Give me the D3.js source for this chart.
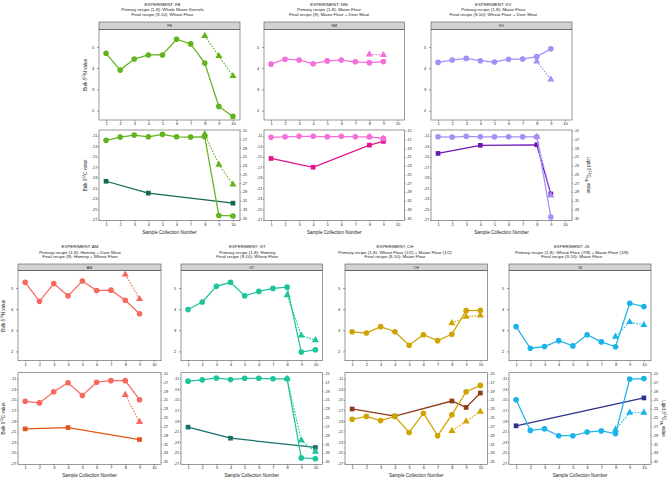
<!DOCTYPE html>
<html><head><meta charset="utf-8">
<script src="https://cdn.jsdelivr.net/npm/d3@7"></script>
<style>
body{margin:0;background:#fff}
svg{display:block}
text{font-family:"Liberation Sans",Arial,Helvetica,sans-serif;fill:#222}
</style>
</head><body>
<svg id="chart" width="668" height="479"></svg>
<script>
// ---------- tick labels ----------
const sampleNumbers = [1,2,3,4,5,6,7,8,9,10];
const n15Ticks = [2,3,4,5];
const bulkC13Ticks = [-11,-13,-15,-17,-19,-21,-23,-25,-27];
const lipidTicks = [-15,-17,-19,-21,-23,-25,-27,-29,-31,-33,-35];

// ---------- FB ----------
const fbTitle = ["EXPERIMENT: FB","Primary recipe (1-8): Whole Maize Kernels","Final recipe (9-10): Wheat Flour"];
const fbN15 = [4.70,3.91,4.43,4.62,4.62,5.36,5.14,4.24,2.20,1.73];
const fbN15TriX = [8,9,10];
const fbN15Tri = [5.52,4.57,3.63];
const fbC13 = [-11.87,-11.25,-10.87,-11.19,-10.73,-11.19,-11.25,-11.19,-26.2,-26.3];
const fbC13TriX = [8,9,10];
const fbC13Tri = [-10.7,-16.5,-20.3];
const fbLipidX = [1,4,10];
const fbLipid = [-26.6,-29.3,-31.6];

// ---------- NM ----------
const nmTitle = ["EXPERIMENT: NM","Primary recipe (1-8): Maize Flour","Final recipe (9): Maize Flour + Deer Meat"];
const nmN15 = [4.19,4.42,4.38,4.21,4.34,4.38,4.30,4.26,4.31];
const nmN15TriX = [8,9];
const nmN15Tri = [4.65,4.62];
const nmC13 = [-11.3,-11.19,-11.1,-11.1,-11.19,-11.1,-11.19,-11.19,-11.5];
const nmC13TriX = [8,9];
const nmC13Tri = [-11.2,-11.6];
const nmLipidX = [1,4,8,9];
const nmLipid = [-21.4,-23.4,-18.35,-17.5];

// ---------- KV ----------
const kvTitle = ["EXPERIMENT: KV","Primary recipe (1-8): Maize Flour","Final recipe (9-10): Wheat Flour + Deer Meat"];
const kvN15 = [4.27,4.38,4.46,4.35,4.29,4.42,4.43,4.54,4.91];
const kvN15TriX = [8,9];
const kvN15Tri = [4.32,3.47];
const kvC13 = [-11.19,-11.25,-11.1,-11.19,-11.19,-11.19,-11.19,-11.19,-26.5];
const kvC13TriX = [8,9];
const kvC13Tri = [-11.2,-22.4];
const kvLipidX = [1,4,8,9];
const kvLipid = [-20.25,-18.4,-18.27,-29.5];

// ---------- AM ----------
const amTitle = ["EXPERIMENT: AM","Primary recipe (1-8): Hominy + Deer Meat","Final recipe (9): Hominy + Wheat Flour"];
const amN15 = [5.27,4.37,5.21,4.63,5.33,4.88,4.90,4.42,3.78];
const amN15TriX = [8,9];
const amN15Tri = [5.64,4.48];
const amC13 = [-15.3,-15.6,-13.5,-11.8,-14.2,-11.7,-11.4,-11.4,-15.0];
const amC13TriX = [8,9];
const amC13Tri = [-14.1,-19.2];
const amLipidX = [1,4,9];
const amLipid = [-27.6,-27.3,-30.0];

// ---------- GT ----------
const gtTitle = ["EXPERIMENT: GT","Primary recipe (1-8): Hominy","Final recipe (9-10): Wheat Flour"];
const gtN15 = [3.98,4.34,5.08,5.27,4.63,4.84,4.98,5.04,1.97,2.08];
const gtN15TriX = [8,9,10];
const gtN15Tri = [4.66,2.75,2.53];
const gtC13 = [-11.5,-11.25,-10.9,-11.2,-10.95,-10.95,-11.05,-11.05,-26.0,-26.15];
const gtC13TriX = [8,9,10];
const gtC13Tri = [-11.05,-22.7,-24.8];
const gtLipidX = [1,4,10];
const gtLipid = [-27.2,-29.7,-31.8];

// ---------- CH ----------
const chTitle = ["EXPERIMENT: CH","Primary recipe (1-8): Wheat Flour (1/2) + Maize Flour (1/2)","Final recipe (9-10): Maize Flour"];
const chN15 = [2.93,2.87,3.17,2.93,2.29,2.79,2.51,2.81,3.93,3.94];
const chN15TriX = [8,9,10];
const chN15Tri = [3.34,3.64,3.70];
const chC13 = [-18.7,-18.15,-18.95,-18.15,-21.2,-17.55,-21.8,-17.85,-13.5,-12.3];
const chC13TriX = [8,9,10];
const chC13Tri = [-20.9,-19.1,-17.25];
const chLipidX = [1,4,8,9,10];
const chLipid = [-23.1,-24.7,-21.3,-22.75,-19.5];

// ---------- JS ----------
const jsTitle = ["EXPERIMENT: JS","Primary recipe (1-8): Wheat Flour (7/8) + Maize Flour (1/8)","Final recipe (9-10): Maize Flour"];
const jsN15 = [3.17,2.15,2.23,2.51,2.26,2.79,2.45,2.22,4.28,4.12];
const jsN15TriX = [8,9,10];
const jsN15Tri = [2.70,3.39,3.25];
const jsC13 = [-15.0,-20.8,-20.5,-21.8,-21.8,-21.1,-20.9,-21.4,-11.1,-11.0];
const jsC13TriX = [8,9,10];
const jsC13Tri = [-20.65,-17.45,-17.45];
const jsLipidX = [1,10];
const jsLipid = [-26.9,-20.6];

// ---------- panel table built from the arrays ----------
const panels = [
  {code:"FB", title:fbTitle, n15:fbN15, n15TriX:fbN15TriX, n15Tri:fbN15Tri, c13:fbC13, c13TriX:fbC13TriX, c13Tri:fbC13Tri, lipX:fbLipidX, lip:fbLipid,
   col:"#63b31d", dark:"#14694b", row:0, x0:99, x1:240, tx:162.5, leftTitle:87},
  {code:"NM", title:nmTitle, n15:nmN15, n15TriX:nmN15TriX, n15Tri:nmN15Tri, c13:nmC13, c13TriX:nmC13TriX, c13Tri:nmC13Tri, lipX:nmLipidX, lip:nmLipid,
   col:"#f56fd8", dark:"#e3138d", row:0, x0:264, x1:404.5, tx:329},
  {code:"KV", title:kvTitle, n15:kvN15, n15TriX:kvN15TriX, n15Tri:kvN15Tri, c13:kvC13, c13TriX:kvC13TriX, c13Tri:kvC13Tri, lipX:kvLipidX, lip:kvLipid,
   col:"#a48ff7", dark:"#6d16b6", row:0, x0:431, x1:572, tx:493.3, rightTitle:587},
  {code:"AM", title:amTitle, n15:amN15, n15TriX:amN15TriX, n15Tri:amN15Tri, c13:amC13, c13TriX:amC13TriX, c13Tri:amC13Tri, lipX:amLipidX, lip:amLipid,
   col:"#f7695f", dark:"#e2541a", row:1, x0:18, x1:161, tx:80, leftTitle:4.5},
  {code:"GT", title:gtTitle, n15:gtN15, n15TriX:gtN15TriX, n15Tri:gtN15Tri, c13:gtC13, c13TriX:gtC13TriX, c13Tri:gtC13Tri, lipX:gtLipidX, lip:gtLipid,
   col:"#1ec49b", dark:"#15706b", row:1, x0:181, x1:322.5, tx:247.3},
  {code:"CH", title:chTitle, n15:chN15, n15TriX:chN15TriX, n15Tri:chN15Tri, c13:chC13, c13TriX:chC13TriX, c13Tri:chC13Tri, lipX:chLipidX, lip:chLipid,
   col:"#cfa300", dark:"#8c3d17", row:1, x0:345, x1:487.5, tx:395},
  {code:"JS", title:jsTitle, n15:jsN15, n15TriX:jsN15TriX, n15Tri:jsN15Tri, c13:jsC13, c13TriX:jsC13TriX, c13Tri:jsC13Tri, lipX:jsLipidX, lip:jsLipid,
   col:"#1cb4e8", dark:"#2e2f8f", row:1, x0:509, x1:651, tx:571.7, rightTitle:662}
];

const rows = [
  {ty:[5.8,10.8,15.6], strip:22, pTop:29.5, pBot:120, bTop:130, bBot:220.7, xTitle:234},
  {ty:[248.3,253.7,258.4], strip:264, pTop:270.7, pBot:360.7, bTop:372.7, bBot:464.3, xTitle:477.2}
];

const svg = d3.select("#chart");
const plainFmt = d => String(d);

function styleAxis(fs){
  return g => {
    g.select(".domain").remove();
    g.selectAll("line").attr("stroke","#444").attr("stroke-width",0.5);
    g.selectAll("text").attr("font-size",fs).attr("fill","#333");
  };
}

function pts(xs, ys){ return xs.map((x,i)=>[x, ys[i]]); }

function drawSeries(g, data, xs, ys, color, shape, dashed){
  const line = d3.line().x(d=>xs(d[0])).y(d=>ys(d[1]));
  g.append("path").attr("d", line(data)).attr("fill","none").attr("stroke",color)
    .attr("stroke-width", dashed ? 1.1 : 1.25)
    .attr("stroke-dasharray", dashed ? "1.6,1.4" : null);
  const sym = shape==="circle" ? d3.symbolCircle : shape==="square" ? d3.symbolSquare : d3.symbolTriangle;
  const size = shape==="circle" ? 25 : 22;
  g.selectAll(null).data(data).enter().append("path")
    .attr("d", d3.symbol().type(sym).size(size))
    .attr("transform", d=>`translate(${xs(d[0])},${ys(d[1])})`)
    .attr("fill", color);
}

panels.forEach(p=>{
  const r = rows[p.row];
  const g = svg.append("g");
  const cx = (p.x0+p.x1)/2;

  // title
  p.title.forEach((t,i)=>{
    g.append("text").attr("x",p.tx).attr("y",r.ty[i]).attr("text-anchor","middle")
      .attr("font-size",4.4).text(t);
  });

  // strip
  g.append("rect").attr("x",p.x0).attr("y",r.strip).attr("width",p.x1-p.x0).attr("height",r.pTop-r.strip)
    .attr("fill","#d2d2d2").attr("stroke","#555").attr("stroke-width",0.6);
  g.append("text").attr("x",cx).attr("y",r.strip+(r.pTop-r.strip)/2+1.2).attr("text-anchor","middle")
    .attr("font-size",3.6).text(p.code);

  const x = d3.scaleLinear().domain([0.5,10.5]).range([p.x0,p.x1]);
  const yN = d3.scaleLinear().domain([1.56,5.82]).range([r.pBot,r.pTop]);
  const yC = d3.scaleLinear().domain([-27.2,-9.9]).range([r.bBot,r.bTop]);
  const yL = d3.scaleLinear().domain([-35.6,-14.9]).range([r.bBot,r.bTop]);

  // frames
  g.append("rect").attr("x",p.x0).attr("y",r.pTop).attr("width",p.x1-p.x0).attr("height",r.pBot-r.pTop)
    .attr("fill","none").attr("stroke","#555").attr("stroke-width",0.6);
  g.append("rect").attr("x",p.x0).attr("y",r.bTop).attr("width",p.x1-p.x0).attr("height",r.bBot-r.bTop)
    .attr("fill","none").attr("stroke","#555").attr("stroke-width",0.6);

  // axes
  g.append("g").attr("transform",`translate(0,${r.pBot})`)
    .call(d3.axisBottom(x).tickValues(sampleNumbers).tickFormat(plainFmt).tickSize(1.5).tickPadding(0.6)).call(styleAxis(4));
  g.append("g").attr("transform",`translate(0,${r.bBot})`)
    .call(d3.axisBottom(x).tickValues(sampleNumbers).tickFormat(plainFmt).tickSize(1.5).tickPadding(0.8)).call(styleAxis(4));
  g.append("g").attr("transform",`translate(${p.x0},0)`)
    .call(d3.axisLeft(yN).tickValues(n15Ticks).tickFormat(plainFmt).tickSize(2).tickPadding(2.8)).call(styleAxis(4));
  g.append("g").attr("transform",`translate(${p.x0},0)`)
    .call(d3.axisLeft(yC).tickValues(bulkC13Ticks).tickFormat(plainFmt).tickSize(1).tickPadding(0.8)).call(styleAxis(3.7));
  g.append("g").attr("transform",`translate(${p.x1},0)`)
    .call(d3.axisRight(yL).tickValues(lipidTicks).tickFormat(plainFmt).tickSize(1).tickPadding(0.8)).call(styleAxis(3.7));

  // x title
  g.append("text").attr("x",cx).attr("y",r.xTitle).attr("text-anchor","middle")
    .attr("font-size",4.6).text("Sample Collection Number");

  if(p.leftTitle !== undefined){
    const lx = p.leftTitle;
    const t1 = g.append("text").attr("transform",`translate(${lx},${(r.pTop+r.pBot)/2}) rotate(-90)`)
      .attr("text-anchor","middle").attr("font-size",4.6);
    t1.append("tspan").text("Bulk δ");
    t1.append("tspan").attr("baseline-shift","super").attr("font-size",3.2).text("15");
    t1.append("tspan").text("N value");
    const t2 = g.append("text").attr("transform",`translate(${lx},${(r.bTop+r.bBot)/2}) rotate(-90)`)
      .attr("text-anchor","middle").attr("font-size",4.6);
    t2.append("tspan").text("Bulk δ");
    t2.append("tspan").attr("baseline-shift","super").attr("font-size",3.2).text("13");
    t2.append("tspan").text("C value");
  }
  if(p.rightTitle !== undefined){
    const rx = p.rightTitle;
    const t3 = g.append("text").attr("transform",`translate(${rx},${(r.bTop+r.bBot)/2}) rotate(90)`)
      .attr("text-anchor","middle").attr("font-size",4.6);
    t3.append("tspan").text("Lipid δ");
    t3.append("tspan").attr("baseline-shift","super").attr("font-size",3.2).text("13");
    t3.append("tspan").text("C");
    t3.append("tspan").attr("baseline-shift","sub").attr("font-size",3.2).text("FA");
    t3.append("tspan").text(" value");
  }

  // data: top plot
  const nData = p.n15.map((v,i)=>[sampleNumbers[i], v]);
  drawSeries(g, nData, x, yN, p.col, "circle", false);
  drawSeries(g, pts(p.n15TriX, p.n15Tri), x, yN, p.col, "triangle", true);

  // data: bottom plot
  drawSeries(g, pts(p.lipX, p.lip), x, yL, p.dark, "square", false);
  const cData = p.c13.map((v,i)=>[sampleNumbers[i], v]);
  drawSeries(g, cData, x, yC, p.col, "circle", false);
  drawSeries(g, pts(p.c13TriX, p.c13Tri), x, yC, p.col, "triangle", true);
});
</script>
</body></html>
